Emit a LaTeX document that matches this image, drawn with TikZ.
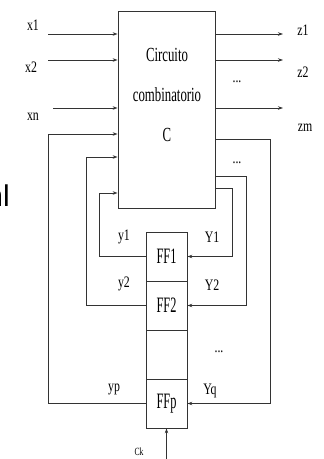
\documentclass[tikz,border=0pt]{standalone}
\usepackage{fontspec}
\setmainfont{Liberation Serif}
\newfontfamily\cutfont{Liberation Sans}
\usetikzlibrary{arrows.meta,positioning}

\tikzset{
  wire/.style={line width=0.8pt, draw=black!80},
  lbl/.style={font=\fontsize{16}{16}\selectfont, xscale=0.74, transform shape, inner sep=0pt},
  inlbl/.style={font=\fontsize{20}{20}\selectfont, xscale=0.64, transform shape, inner sep=0pt},
  ffbox/.style={wire, rectangle, minimum width=41pt, minimum height=49pt, inner sep=0pt},
  fflbl/.style={font=\fontsize{22}{22}\selectfont, xscale=0.56, transform shape, inner sep=0pt},
}

\begin{document}
\begin{tikzpicture}[x=1pt, y=-1pt, >={Stealth[length=5pt,width=3.5pt]}]
    \useasboundingbox (0,0) rectangle (324,459);

    % circuito combinatorio
    \node[wire, rectangle, minimum width=97pt, minimum height=197pt] (comb) at (166.5,109.5) {};
    \node[inlbl] (t1) at (167,55) {Circuito};
    \node[inlbl] (t2) at (167,95) {combinatorio};
    \node[inlbl] (t3) at (167,135) {C};

    % biestables
    \node[ffbox] (ff1) at (166.5,256.5) {};
    \node[ffbox] (ff2) at (166.5,305.5) {};
    \node[ffbox] (ffd) at (166.5,354.5) {};
    \node[ffbox] (ffp) at (166.5,403.5) {};
    \node[fflbl] at (ff1) {FF1};
    \node[fflbl] at (ff2) {FF2};
    \node[fflbl] at (ffp) {FFp};

    % entradas
    \coordinate (xs1) at (48,34);
    \coordinate (xs2) at (48,60);
    \coordinate (xsn) at (53,108);
    \draw[wire, ->] (xs1) -- (xs1 -| comb.west);
    \draw[wire, ->] (xs2) -- (xs2 -| comb.west);
    \draw[wire, ->] (xsn) -- (xsn -| comb.west);
    \node[lbl] (lx1) at (33,25) {x1};
    \node[lbl] (lx2) at (31,67) {x2};
    \node[lbl] (lxn) at (33,117) {xn};

    % salidas
    \coordinate (zs1) at (283,34);
    \coordinate (zs2) at (283,60);
    \coordinate (zsm) at (283,108);
    \draw[wire, ->] (comb.east |- zs1) -- (zs1);
    \draw[wire, ->] (comb.east |- zs2) -- (zs2);
    \draw[wire, ->] (comb.east |- zsm) -- (zsm);
    \node[lbl] (lz1) at (303,30) {z1};
    \node[lbl] (lz2) at (303,72) {z2};
    \node[lbl] (lzm) at (305,128) {zm};
    \node[lbl] (dz) at (237,82) {...};

    % realimentacion
    \draw[wire, ->] (ffp.west) -- ++(-97,0) |- (comb.west |- 0,134);
    \draw[wire, ->] (ff2.west) -- ++(-59,0) |- (comb.west |- 0,157);
    \draw[wire, ->] (ff1.west) -- ++(-46,0) |- (comb.west |- 0,193);
    \draw[wire, ->] (comb.east |- 0,139) -- ++(55,0) |- (ffp.east);
    \draw[wire, ->] (comb.east |- 0,176) -- ++(31,0) |- (ff2.east);
    \draw[wire, ->] (comb.east |- 0,188) -- ++(17,0) |- (ff1.east);
    \node[lbl] (dy) at (237,163) {...};
    \node[lbl] (ly1) at (124,237) {y1};
    \node[lbl] (lY1) at (212,237) {Y1};
    \node[lbl] (ly2) at (124,284) {y2};
    \node[lbl] (lY2) at (212,285) {Y2};
    \node[lbl] (dff) at (219,352) {...};
    \node[lbl] (lyp) at (114,389) {yp};
    \node[lbl] (lYq) at (210,391) {Yq};

    % reloj
    \coordinate (ck) at (166.5,459);
    \draw[wire, ->] (ck) -- (ffp.south);
    \node[font=\fontsize{11}{11}\selectfont, xscale=0.7, transform shape, inner sep=0pt] (lck) at (139,452) {Ck};

    % texto cortado
    \node[font=\cutfont\fontsize{30}{30}\selectfont, anchor=east, inner sep=0pt] (cut) at (10,196) {nl};
\end{tikzpicture}
\end{document}
